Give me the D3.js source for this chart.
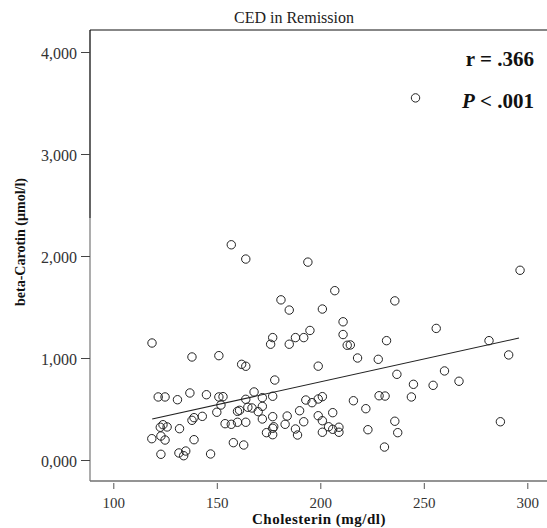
<!DOCTYPE html>
<html><head><meta charset="utf-8">
<script src="https://cdn.jsdelivr.net/npm/d3@7/dist/d3.min.js"></script>
<style>
html,body{margin:0;padding:0;background:#fff;}
svg{display:block;font-family:"Liberation Serif","Times New Roman",serif;}
</style></head>
<body>
<svg id="chart" width="547" height="528"></svg>
<script>
// Data
const cholesterol = [157,164,194,207,236,181,185,201,211,211,195,192,188,185,177,176,213,214.5,218,228,232,256,281.5,291,296.5,199,237,260,267,245,254.5,244,228.4,231.3,216,222,236,237.4,223,231,287,193,196,199,201,190,184,183,192,199,201,206,188,189,201,204,206,209,209,118.7,138,151,162,164,178,121.7,125,131,137,145,151,153,168,164,172,177,152,150,160,161,165,167,170,172,172,177,143,139,138,124,126,122.7,132,118.6,123,125,139,154,157,160,164,158,163,123,131.7,135,134,147,174,177,177.5,177,246];
const betaCarotene = [2110,1970,1940,1660,1560,1570,1470,1480,1355,1230,1270,1200,1200,1135,1200,1135,1125,1128,1000,987,1170,1290,1170,1030,1860,920,840,873,772,742,732,618,630,627,581,503,380,268,297,127,375,588,562,598,621,483,431,350,375,434,385,464,304,245,272,326,301,321,272,1147,1010,1023,938,919,784,618,618,591,657,640,618,621,667,595,611,625,539,468,477,487,517,510,474,526,402,425,428,415,389,346,324,321,307,209,235,196,199,356,350,370,370,170,147,56,69,88,42,59,268,311,326,248,3550];
const fitX = [118.8, 296];
const fitY = [402, 1196];
const xTicks = [100,150,200,250,300];
const yTicks = [0,1000,2000,3000,4000];
const yTickLabels = ["0,000","1,000","2,000","3,000","4,000"];
const title = "CED in Remission";
const xTitle = "Cholesterin (mg/dl)";
const yTitle = "beta-Carotin (µmol/l)";
const statR = "r = .366";

const svg = d3.select("#chart");
const L = 90, R = 547, T = 30, B = 481;
const x = d3.scaleLinear().domain([100,300]).range([113.3,527.3]);
const y = d3.scaleLinear().domain([0,4000]).range([460,52]);

// frame
svg.append("line").attr("x1",L).attr("x2",R).attr("y1",T).attr("y2",T).attr("stroke","#111").attr("stroke-width",1.2);
svg.append("line").attr("x1",L).attr("x2",L).attr("y1",T).attr("y2",218).attr("stroke","#111").attr("stroke-width",1.3);
svg.append("line").attr("x1",L).attr("x2",L).attr("y1",218).attr("y2",B).attr("stroke","#808080").attr("stroke-width",1.3);
svg.append("line").attr("x1",L).attr("x2",R).attr("y1",B).attr("y2",B).attr("stroke","#707070").attr("stroke-width",1.3);

// x axis
const xAxis = d3.axisBottom(x).tickValues(xTicks).tickSize(6).tickPadding(8).tickFormat(d3.format("d"));
const gx = svg.append("g").attr("transform",`translate(0,${B+2})`).call(xAxis);
gx.select(".domain").remove();
gx.selectAll(".tick line").attr("stroke","#555");
gx.selectAll(".tick text").attr("font-size",15).attr("fill","#333").attr("font-family","Liberation Serif, serif");

// y axis
const yAxis = d3.axisLeft(y).tickValues(yTicks).tickSize(9).tickPadding(4).tickFormat((d,i)=>yTickLabels[i]);
const gy = svg.append("g").attr("transform",`translate(${L},0)`).call(yAxis);
gy.select(".domain").remove();
gy.selectAll(".tick line").attr("stroke","#444");
gy.selectAll(".tick text").attr("font-size",16).attr("dy","0.42em").attr("fill","#333").attr("font-family","Liberation Serif, serif");

// fit line
svg.append("path").datum(fitX.map((d,i)=>[d,fitY[i]]))
  .attr("d", d3.line().x(d=>x(d[0])).y(d=>y(d[1])))
  .attr("fill","none").attr("stroke","#222").attr("stroke-width",1.1);

// points
svg.append("g").selectAll("circle").data(cholesterol.map((d,i)=>[d,betaCarotene[i]])).join("circle")
  .attr("cx",d=>x(d[0])).attr("cy",d=>y(d[1])).attr("r",4.2)
  .attr("fill","none").attr("stroke","#222").attr("stroke-width",1);

// titles
svg.append("text").attr("x",294).attr("y",23).attr("text-anchor","middle").attr("font-size",16).attr("fill","#222").text(title);
svg.append("text").attr("x",319).attr("y",524).attr("text-anchor","middle").attr("font-size",15).attr("font-weight","bold").attr("letter-spacing","0.5px").attr("fill","#111").text(xTitle);
svg.append("text").attr("transform","translate(25,242) rotate(-90)").attr("text-anchor","middle").attr("font-size",14).attr("font-weight","bold").attr("fill","#111").text(yTitle);

// stats
svg.append("text").attr("x",534).attr("y",66).attr("text-anchor","end").attr("font-size",21).attr("font-weight","bold").attr("fill","#111").text(statR);
const p = svg.append("text").attr("x",534).attr("y",108).attr("text-anchor","end").attr("font-size",21).attr("font-weight","bold").attr("fill","#111");
p.append("tspan").attr("font-style","italic").text("P");
p.append("tspan").text(" < .001");
</script>
</body></html>
